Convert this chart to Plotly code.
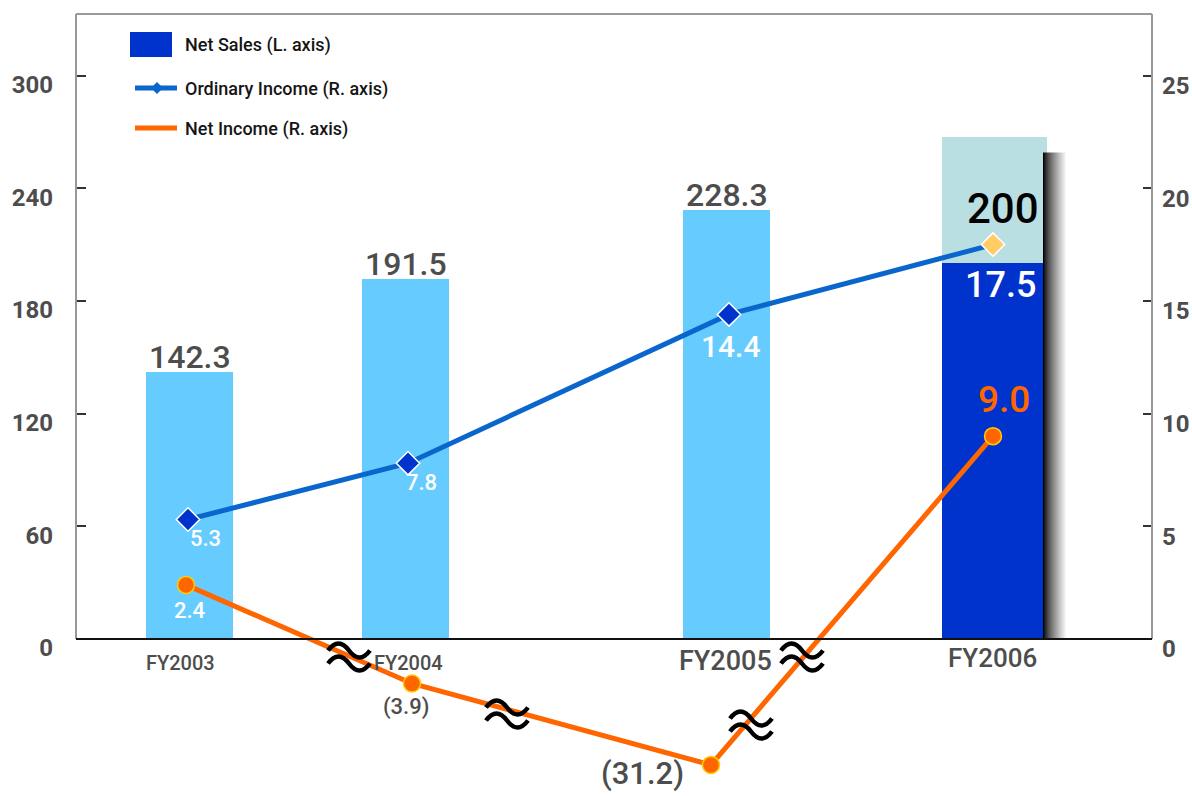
import math
import plotly.graph_objects as go

# ---------------- data ----------------
years = ["FY2003", "FY2004", "FY2005", "FY2006"]
net_sales = [142.3, 191.5, 228.3, 200]            # billions of yen, left axis
fy2006_upper = 67.0                               # lighter segment stacked on FY2006
ordinary_income = [5.3, 7.8, 14.4, 17.5]          # right axis
net_income = [2.4, -3.9, -31.2, 9.0]              # right axis
sales_labels = ["142.3", "191.5", "228.3", "200"]
ordinary_labels = ["5.3", "7.8", "14.4", "17.5"]
net_labels = ["2.4", "(3.9)", "(31.2)", "9.0"]
left_ticks = [0, 60, 120, 180, 240, 300]
right_ticks = [0, 5, 10, 15, 20, 25]

# ---------------- layout geometry ----------------
W, H = 1192, 796
PL, PR, PT, PB = 76, 1152, 14, 796        # plot box in page pixels
ZERO = 639                                 # page row of the zero line
K = 563.5 / 300                            # pixels per unit on the left axis
y_lo, y_hi = -(PB - ZERO) / K, (ZERO - PT) / K

# x axis runs in page pixels so category slots can be spaced unevenly
bar_x = [189.5, 405.5, 726.5, 992.5]
bar_w = [87, 87, 87, 101]
oi_x = [188, 408, 729, 993]
ni_x = [186, 412, 711, 993]

FONT = "Roboto, Liberation Sans, Arial, sans-serif"
GRAY = "#4d4d4d"


def broken(v):
    """Negative values sit on a square-root compressed (broken) section."""
    return v if v >= 0 else -math.sqrt(-v)


def pp(row):
    """Page row -> paper fraction."""
    return (PB - row) / (PB - PT)


fig = go.Figure()

fig.add_trace(go.Bar(
    x=bar_x, y=net_sales, width=bar_w,
    marker=dict(color=["#66ccff"] * 3 + ["#0033cc"], line=dict(width=0)),
    hoverinfo="skip", showlegend=False,
))
fig.add_trace(go.Bar(
    x=[bar_x[3] + 2], y=[fy2006_upper], base=[net_sales[3]], width=[bar_w[3] + 4],
    marker=dict(color="#b9dfe3", line=dict(width=0)),
    hoverinfo="skip", showlegend=False,
))
fig.add_trace(go.Scatter(
    x=oi_x, y=ordinary_income, yaxis="y2", mode="lines+markers",
    line=dict(color="#0a66cc", width=5),
    marker=dict(symbol="diamond", size=18, color=["#0033cc"] * 3 + ["#ffcc66"],
                line=dict(color="white", width=1.5)),
    hoverinfo="skip", showlegend=False,
))
fig.add_trace(go.Scatter(
    x=ni_x, y=[broken(v) for v in net_income], yaxis="y2", mode="lines+markers",
    line=dict(color="#ff6600", width=5),
    marker=dict(symbol="circle", size=17, color="#ff6600",
                line=dict(color="#ffcc00", width=1.5)),
    hoverinfo="skip", showlegend=False,
))

shapes = []
# drop shadow on the FY2006 bar
shadow_top = net_sales[3] + fy2006_upper - 8
x_edge = bar_x[3] + bar_w[3] / 2
steps = 24
for i in range(steps):
    g = int(255 * (i / (steps - 1)) ** 0.75)
    shapes.append(dict(type="rect", xref="x", yref="y",
                       x0=x_edge + i, x1=x_edge + i + 1.05, y0=0, y1=shadow_top,
                       fillcolor=f"rgb({g},{g},{g})", line=dict(width=0), layer="above"))

# frame and zero line
frame = dict(color="#999999", width=2)
shapes += [
    dict(type="line", xref="paper", yref="paper", x0=0, x1=0, y0=pp(ZERO), y1=1, line=frame),
    dict(type="line", xref="paper", yref="paper", x0=1, x1=1, y0=pp(ZERO), y1=1, line=frame),
    dict(type="line", xref="paper", yref="paper", x0=0, x1=1, y0=1, y1=1, line=frame),
    dict(type="line", xref="paper", yref="y", x0=0, x1=1, y0=0, y1=0,
         line=dict(color="#111111", width=2)),
]


# axis-break marks
def wave(cx, cy, w=42, a=7):
    xl, xr = cx - w / 2, cx + w / 2
    c = 4 / 3 * a
    return (f"M {xl},{pp(cy)} "
            f"C {xl + w / 6},{pp(cy - c)} {cx - w / 6},{pp(cy - c)} {cx},{pp(cy)} "
            f"C {cx + w / 6},{pp(cy + c)} {xr - w / 6},{pp(cy + c)} {xr},{pp(cy)}")


for cx, cy in [(349, 657), (507, 714), (751, 725), (802, 657)]:
    for dy in (-6.5, 6.5):
        shapes.append(dict(type="path", xref="x", yref="paper", path=wave(cx, cy + dy),
                           line=dict(color="black", width=4.5), layer="above"))

# legend swatches
shapes += [
    dict(type="rect", xref="x", yref="paper", x0=130, x1=172, y0=pp(57), y1=pp(32),
         fillcolor="#0033cc", line=dict(width=0)),
    dict(type="line", xref="x", yref="paper", x0=135, x1=177, y0=pp(88), y1=pp(88),
         line=dict(color="#0a66cc", width=5)),
    dict(type="path", xref="x", yref="paper",
         path=f"M 151,{pp(88)} L 157,{pp(82)} L 163,{pp(88)} L 157,{pp(94)} Z",
         fillcolor="#0a66cc", line=dict(width=0)),
    dict(type="line", xref="x", yref="paper", x0=135, x1=177, y0=pp(128), y1=pp(128),
         line=dict(color="#ff6600", width=5)),
]

ann = []
for txt, row in [("Net Sales (L. axis)", 45), ("Ordinary Income (R. axis)", 89),
                 ("Net Income (R. axis)", 129)]:
    ann.append(dict(text=txt, xref="x", yref="paper", x=183, y=pp(row),
                    xanchor="left", yanchor="middle", showarrow=False,
                    font=dict(family=FONT, size=18, color="#151515", weight=500)))

# net sales labels
sales_style = [(32, GRAY, 0, -6), (32, GRAY, 0, -6), (32, GRAY, 0, -6), (42, "black", 10, 28)]
for x, v, t, (sz, col, dx, dy) in zip(bar_x, net_sales, sales_labels, sales_style):
    ann.append(dict(text=t, x=x, y=v, xref="x", yref="y", xanchor="center",
                    yanchor="bottom", xshift=dx, yshift=dy, showarrow=False,
                    font=dict(family=FONT, size=sz, color=col, weight=500)))

# ordinary income labels
oi_style = [(22, 17, -19), (22, 13, -19), (30, 2, -32), (36, 7, -40)]
for x, v, t, (sz, dx, dy) in zip(oi_x, ordinary_income, ordinary_labels, oi_style):
    ann.append(dict(text=t, x=x, y=v, xref="x", yref="y2", xanchor="center",
                    yanchor="middle", xshift=dx, yshift=dy, showarrow=False,
                    font=dict(family=FONT, size=sz, color="white", weight=500)))

# net income labels
ni_style = [(22, "white", 3, -26), (22, GRAY, -6, -23), (31, GRAY, -69, -9),
            (37, "#ff6600", 11, 37)]
for x, v, t, (sz, col, dx, dy) in zip(ni_x, net_income, net_labels, ni_style):
    ann.append(dict(text=t, x=x, y=broken(v), xref="x", yref="y2", xanchor="center",
                    yanchor="middle", xshift=dx, yshift=dy, showarrow=False,
                    font=dict(family=FONT, size=sz, color=col, weight=500)))

# category labels
cat_style = [(20, -9, -24), (20, 3, -24), (27, -1, -22), (26, 0, -19)]
for x, t, (sz, dx, dy) in zip(bar_x, years, cat_style):
    ann.append(dict(text=t, x=x, y=0, xref="x", yref="y", xanchor="center",
                    yanchor="middle", xshift=dx, yshift=dy, showarrow=False,
                    font=dict(family=FONT, size=sz, color=GRAY, weight=500)))

tick_font = dict(family=FONT, size=24, color=GRAY, weight="bold")
fig.update_layout(
    width=W, height=H,
    margin=dict(l=PL, r=W - PR, t=PT, b=H - PB, pad=0),
    paper_bgcolor="white", plot_bgcolor="white",
    barmode="overlay", bargap=0,
    xaxis=dict(range=[PL, PR], visible=False, fixedrange=True),
    yaxis=dict(range=[y_lo, y_hi], tickvals=left_ticks, ticktext=[str(t) for t in left_ticks],
               ticks="inside", ticklen=10, tickwidth=2, tickcolor="#333333",
               showgrid=False, zeroline=False, showline=False,
               tickfont=tick_font, ticklabelshift=9, ticklabelstandoff=22),
    yaxis2=dict(range=[y_lo / 12, y_hi / 12], overlaying="y", side="right",
                tickvals=right_ticks, ticktext=[str(t) for t in right_ticks],
                ticks="inside", ticklen=9, tickwidth=2, tickcolor="#333333",
                showgrid=False, zeroline=False, showline=False,
                tickfont=tick_font, ticklabelshift=10, ticklabelstandoff=9),
    shapes=shapes, annotations=ann, showlegend=False,
)

fig.write_html("out.html")
